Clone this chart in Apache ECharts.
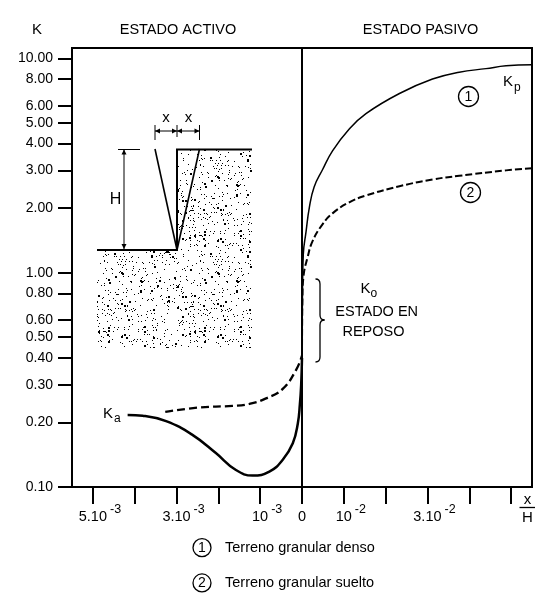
<!DOCTYPE html>
<html>
<head>
<meta charset="utf-8">
<script src="https://cdn.jsdelivr.net/npm/echarts@6/dist/echarts.min.js"></script>
<style>html,body{margin:0;padding:0;background:#fff}#c{width:554px;height:607px}</style>
</head>
<body>
<div id="c"></div>
<script>
// ---- data ----
// Active side: x/H in units of 10^-3 ; passive side: x/H in units of 10^-2
const denseActiveX  = [4.17, 3.81, 3.25, 2.62, 2.06, 1.58, 1.18, 0.78, 0.46, 0.22, 0.10, 0.05, 0.02, 0];
const denseActiveK  = [0.217, 0.215, 0.203, 0.175, 0.144, 0.120, 0.113, 0.118, 0.134, 0.160, 0.198, 0.244, 0.30, 0.40];
const densePassiveX = [0, 0.01, 0.031, 0.096, 0.175, 0.29, 0.49, 0.73, 1.13, 1.53, 2.33, 3.12, 3.76, 4.4, 4.88, 5.5];
const densePassiveK = [0.40, 0.75, 1.22, 1.55, 2.01, 2.51, 3.02, 3.70, 4.68, 5.52, 6.85, 8.00, 8.61, 8.95, 9.22, 9.33];
const looseActiveX  = [3.27, 2.46, 1.66, 1.26, 0.86, 0.46, 0.14, 0];
const looseActiveK  = [0.224, 0.235, 0.239, 0.244, 0.259, 0.287, 0.352, 0.41];
const loosePassiveX = [0, 0.01, 0.038, 0.134, 0.25, 0.49, 0.73, 1.13, 1.53, 2.33, 3.12, 3.76, 4.88, 5.5];
const loosePassiveK = [0.41, 0.75, 0.97, 1.18, 1.40, 1.68, 1.89, 2.13, 2.29, 2.53, 2.72, 2.83, 3.00, 3.07];

const seriesNames = ['Terreno granular denso', 'Terreno granular suelto'];
const yTickValues = [0.1, 0.2, 0.3, 0.4, 0.5, 0.6, 0.8, 1, 2, 3, 4, 5, 6, 8, 10];
const xTickValues = [-5, -4, -3, -2, -1, 0, 1, 2, 3, 4, 5];
const xLabelValues = [-5, -3, -1, 0, 1, 3];
const xLabelBase = ['5.10', '3.10', '10', '0', '10', '3.10'];
const xLabelExp  = ['-3', '-3', '-3', '', '-2', '-2'];

const FONT = 'Liberation Sans, Arial, sans-serif';
const activePts = (xs, ks) => xs.map((x, i) => [-x, ks[i]]).sort((a, b) => a[0] - b[0]);
const passivePts = (xs, ks) => xs.map((x, i) => [x, ks[i]]);

function makeStipple() {
  const c = document.createElement('canvas');
  c.width = 96; c.height = 96;
  const ctx = c.getContext('2d');
  ctx.fillStyle = '#000';
  let s = 987654321;
  const rnd = () => { s = (Math.imul(s, 1103515245) + 12345) >>> 0; return s / 4294967296; };
  for (let i = 0; i < 460; i++) {
    const x = Math.floor(rnd() * 96), y = Math.floor(rnd() * 96);
    const big = rnd() < 0.12;
    ctx.fillRect(x, y, big ? 2 : 1, big ? 2 : 1);
  }
  return c;
}
const stipple = makeStipple();

function arrow(x, y, dir) {
  const L = 5, W = 2.5;
  let pts;
  if (dir === 'left') pts = [[x, y], [x + L, y - W], [x + L, y + W]];
  else if (dir === 'right') pts = [[x, y], [x - L, y - W], [x - L, y + W]];
  else if (dir === 'up') pts = [[x, y], [x - W, y + L], [x + W, y + L]];
  else pts = [[x, y], [x - W, y - L], [x + W, y - L]];
  return { type: 'polygon', shape: { points: pts }, style: { fill: '#000' }, z: 20 };
}
const line = (x1, y1, x2, y2, w) => ({ type: 'line', shape: { x1, y1, x2, y2 }, style: { stroke: '#000', lineWidth: w || 1 }, z: 20 });
const quad = (x1, y1, cx, cy, x2, y2, w) => ({ type: 'bezierCurve', shape: { x1, y1, x2, y2, cpx1: cx, cpy1: cy },
  style: { stroke: '#000', fill: 'none', lineWidth: w || 1 }, z: 20 });
const txt = (x, y, text, size, extra) => ({ type: 'text', x, y, z: 20,
  style: Object.assign({ text, fill: '#000', font: size + 'px ' + FONT, align: 'center', verticalAlign: 'middle' }, extra || {}) });
const ring = (cx, cy, label) => ([
  { type: 'circle', shape: { cx, cy, r: 10 }, style: { fill: 'none', stroke: '#000', lineWidth: 1.3 }, z: 20 },
  txt(cx, cy + 0.5, label, 14)
]);

const graphics = [
  txt(178, 30, 'ESTADO ACTIVO', 14.5),
  txt(420.5, 30, 'ESTADO PASIVO', 14.5),
  // inset: soil
  { type: 'polygon', shape: { points: [[177, 149], [252, 149], [252, 348], [97, 348], [97, 250], [177, 250]] },
    style: { fill: { image: stipple, repeat: 'repeat' } }, z: 10 },
  line(176, 149.5, 252, 149.5, 2.2),
  line(97, 250, 177, 250, 2.2),
  line(177, 149, 177, 251, 2),
  line(155, 149, 177, 250, 1.6),
  line(199.5, 149, 177, 250, 1.6),
  // x dimensions
  line(155, 125, 155, 140, 1), line(177, 125, 177, 137, 1), line(199.5, 125, 199.5, 140, 1),
  line(155, 131, 199.5, 131, 1),
  arrow(155, 131, 'left'), arrow(177, 131, 'right'), arrow(177, 131, 'left'), arrow(199.5, 131, 'right'),
  txt(166, 118, 'x', 15), txt(188.5, 118, 'x', 15),
  // H dimension
  line(118, 149.5, 140, 149.5, 1),
  line(124, 149.5, 124, 250, 1),
  arrow(124, 149.5, 'up'), arrow(124, 249, 'down'),
  txt(115.5, 200, 'H', 16),
  // annotations
  ...ring(468.5, 96.5, '1'),
  ...ring(470.5, 192.5, '2'),
  { type: 'text', x: 503, y: 82, z: 20, style: { text: '{k|K}{s|p}', verticalAlign: 'middle',
    rich: { k: { font: '15px ' + FONT, fill: '#000' }, s: { font: '12px ' + FONT, fill: '#000', padding: [12, 0, 0, 1] } } } },
  { type: 'text', x: 103, y: 414, z: 20, style: { text: '{k|K}{s|a}', verticalAlign: 'middle',
    rich: { k: { font: '15px ' + FONT, fill: '#000' }, s: { font: '12px ' + FONT, fill: '#000', padding: [10, 0, 0, 1] } } } },
  { type: 'text', x: 360.5, y: 289, z: 20, style: { text: '{k|K}{s|o}', verticalAlign: 'middle',
    rich: { k: { font: '15px ' + FONT, fill: '#000' }, s: { font: '12px ' + FONT, fill: '#000', padding: [10, 0, 0, 0] } } } },
  txt(376.7, 312, 'ESTADO EN', 14.5),
  txt(373.5, 331.5, 'REPOSO', 14.5),
  // brace
  quad(315.5, 279, 320, 279, 320, 284, 1.3),
  line(320, 284, 320, 315, 1.3),
  quad(320, 315, 320, 320, 324.5, 320, 1.3),
  quad(324.5, 320, 320, 320, 320, 325, 1.3),
  line(320, 325, 320, 357, 1.3),
  quad(320, 357, 320, 362, 315.5, 362, 1.3),
  // x/H unit
  txt(527.5, 499.5, 'x', 15),
  line(519.5, 507.5, 535, 507.5, 1.3),
  txt(527.5, 517.5, 'H', 15)
];

const chart = echarts.init(document.getElementById('c'));
chart.setOption({
  animation: false,
  textStyle: { fontFamily: FONT, color: '#000' },
  grid: { left: 72, right: 22, top: 48, bottom: 120, show: true, borderColor: '#000', borderWidth: 2,
          containLabel: false, outerBoundsMode: 'none' },
  xAxis: {
    type: 'value', min: -5.5, max: 5.5,
    axisLine: { show: true, onZero: false, lineStyle: { color: '#000', width: 2 } },
    axisTick: { show: true, length: 17, lineStyle: { color: '#000', width: 2 }, customValues: xTickValues },
    splitLine: { show: false },
    axisLabel: {
      customValues: xLabelValues, margin: 16, color: '#000', hideOverlap: false,
      formatter: function (v) {
        const i = xLabelValues.indexOf(Math.round(v));
        if (i < 0) return '';
        const b = xLabelBase[i], e = xLabelExp[i];
        return e ? '{p| }{b|' + b + '}{s|' + e + '}' : '{b|' + b + '}';
      },
      rich: {
        b: { fontSize: 14.5, lineHeight: 27, fontFamily: FONT, color: '#000' },
        s: { fontSize: 12.5, lineHeight: 13, verticalAlign: 'top', padding: [0, 0, 0, 3], fontFamily: FONT, color: '#000' },
        p: { width: 14, fontSize: 12.5, lineHeight: 13, verticalAlign: 'top' }
      }
    }
  },
  yAxis: {
    type: 'log', logBase: 10, min: 0.1, max: 11.17,
    name: 'K', nameLocation: 'end', nameGap: 11,
    nameTextStyle: { fontSize: 15, color: '#000', align: 'right', verticalAlign: 'bottom', padding: [0, 30, 0, 0] },
    axisLine: { show: true, onZero: false, lineStyle: { color: '#000', width: 2 } },
    axisTick: { show: true, length: 14, lineStyle: { color: '#000', width: 2 }, customValues: yTickValues },
    minorTick: { show: false },
    splitLine: { show: false },
    axisLabel: { customValues: yTickValues, margin: 19, fontSize: 14, color: '#000', hideOverlap: false,
                 formatter: v => Number(v).toFixed(2) }
  },
  legend: {
    orient: 'vertical', left: 188, top: 538, itemGap: 16, padding: 0,
    icon: 'none', itemWidth: 0, itemHeight: 0, selectedMode: false,
    data: seriesNames,
    formatter: name => '{c|' + (seriesNames.indexOf(name) + 1) + '}{t|' + name + '}',
    textStyle: {
      color: '#000', fontFamily: FONT, fontSize: 14.5,
      rich: {
        c: { width: 18, height: 18, borderRadius: 10, borderWidth: 1.3, borderColor: '#000', align: 'center',
             fontSize: 14, fontFamily: FONT, color: '#000' },
        t: { fontSize: 14.5, padding: [0, 0, 0, 14], fontFamily: FONT, color: '#000' }
      }
    }
  },
  series: [
    { name: seriesNames[0], type: 'line', data: activePts(denseActiveX, denseActiveK), showSymbol: false,
      smooth: 0.45, lineStyle: { color: '#000', width: 2.5 }, itemStyle: { color: '#000' },
      markLine: { silent: true, symbol: 'none', label: { show: false }, animation: false,
                  lineStyle: { color: '#000', width: 2, type: 'solid' }, data: [{ xAxis: 0 }] } },
    { name: seriesNames[0], type: 'line', data: passivePts(densePassiveX, densePassiveK), showSymbol: false,
      smooth: 0.45, lineStyle: { color: '#000', width: 1.5 }, itemStyle: { color: '#000' } },
    { name: seriesNames[1], type: 'line', data: activePts(looseActiveX, looseActiveK), showSymbol: false,
      smooth: 0.45, lineStyle: { color: '#000', width: 2.3, type: [8, 4] }, itemStyle: { color: '#000' } },
    { name: seriesNames[1], type: 'line', data: passivePts(loosePassiveX, loosePassiveK), showSymbol: false,
      smooth: 0.45, lineStyle: { color: '#000', width: 2, type: [7, 3] }, itemStyle: { color: '#000' } }
  ],
  graphic: graphics
});
</script>
</body>
</html>
